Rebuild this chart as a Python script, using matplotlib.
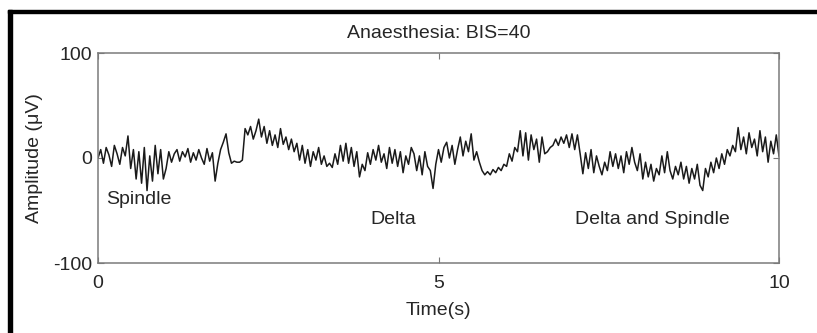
import matplotlib
matplotlib.use("Agg")
import matplotlib.pyplot as plt
from matplotlib.patches import Rectangle
import numpy as np

plt.rcParams['font.family'] = ['Liberation Sans', 'DejaVu Sans']

title = "Anaesthesia: BIS=40"
x_label = "Time(s)"
y_label = "Amplitude (\u03bcV)"
x_ticks = [0, 5, 10]
y_ticks = [-100, 0, 100]
annotations = ["Spindle", "Delta", "Delta and Spindle"]
annot_x = [0.12, 4.0, 7.0]
annot_y = [-40, -59, -59]

dt = 0.04
amp_s0 = [0, 8, -5, 10, 3, -8, 12, 4, -6, 10, 2, 21, -10, 8, -20, 6, -24, 10, -31, 2, -22, 12, -15, 8, -20]
amp_s1 = [-10, 6, -4, 4, 8, -3, 6, 1, 9, -4, 5, -2, 8, 0, -6, 9, -3, 5, -22, -5, 8, 15, 23, 5, -5]
amp_s2 = [-3, -4, -4, -2, 28, 22, 30, 18, 26, 37, 20, 30, 14, 26, 12, 22, 10, 28, 13, 20, 8, 18, 6, 14, -2]
amp_s3 = [12, -5, 8, -8, 6, -2, 10, -6, 2, -8, -5, -9, 4, -6, 12, -3, 14, -5, 10, -8, 6, -18, -6, -12, 5]
amp_s4 = [-6, 8, -2, 12, -4, 4, -10, 10, -5, 8, -8, 6, -14, 2, -6, 10, 4, -12, 2, -16, 6, -8, -12, -29, -6]
amp_s5 = [8, -4, 10, 15, 0, 12, -6, 8, 20, 2, 16, 6, 23, -2, 6, -4, -12, -16, -13, -16, -11, -14, -9, -12, -6]
amp_s6 = [-8, 4, -3, 10, 6, 26, 2, 24, -2, 22, 8, 18, -4, 20, 4, 6, 10, 12, 18, 12, 20, 14, 22, 10, 23]
amp_s7 = [8, 22, 4, -15, 5, -10, 8, -14, 2, -8, -16, -4, -12, 6, -8, 4, -10, 2, -14, 6, -6, 10, -4, -12, 4]
amp_s8 = [-20, -4, -18, -6, -22, -10, -16, 2, -14, 6, -12, -20, -8, -16, -4, -20, -8, -24, -10, -20, -6, -26, -31, -10, -18]
amp_s9 = [-4, -14, 0, -10, 4, -6, 8, 2, 12, 6, 29, 8, 20, 4, 24, 10, 18, 2, 26, 6, 20, -4, 16, 4, 22, 2]

amplitude = (amp_s0 + amp_s1 + amp_s2 + amp_s3 + amp_s4 + amp_s5 +
             amp_s6 + amp_s7 + amp_s8 + amp_s9)
time = np.arange(len(amplitude)) * dt

W, H = 817, 333
fig = plt.figure(figsize=(W / 100, H / 100), dpi=100)
ax = fig.add_axes([98 / W, 1 - 263 / H, (779 - 98) / W, (263 - 53) / H])

ax.plot(time, amplitude, color='#1a1a1a', linewidth=1.1)
ax.set_xlim(0, 10)
ax.set_ylim(-100, 100)
ax.set_xticks(x_ticks)
ax.set_yticks(y_ticks)
ax.set_xticklabels([str(v) for v in x_ticks])
ax.set_yticklabels([str(v) for v in y_ticks])

axis_gray = '#7a7a7a'
txt_col = '#262626'
fs = 14
for s in ax.spines.values():
    s.set_color(axis_gray)
    s.set_linewidth(1.1)
ax.tick_params(direction='in', length=4, width=0.8, color=axis_gray,
               top=True, right=True, labelsize=fs, labelcolor=txt_col)
ax.tick_params(axis='x', pad=9)
ax.tick_params(axis='y', pad=4)

ax.set_title(title, fontsize=fs, color=txt_col, pad=11)
ax.set_xlabel(x_label, fontsize=fs, color=txt_col, labelpad=7)
ax.set_ylabel(y_label, fontsize=fs, color=txt_col, labelpad=7.5)

for txt, xx, yy in zip(annotations, annot_x, annot_y):
    ax.text(xx, yy, txt, fontsize=fs, color=txt_col, va='center', ha='left')

# black frame (left and top) as in the scanned figure
fig.add_artist(Rectangle((8 / W, 0), 4 / W, (H - 10) / H, transform=fig.transFigure,
                         color='black', zorder=10))
fig.add_artist(Rectangle((8 / W, 1 - 13 / H), (W - 8) / W, 3 / H, transform=fig.transFigure,
                         color='black', zorder=10))

fig.savefig('out.png', dpi=100)
